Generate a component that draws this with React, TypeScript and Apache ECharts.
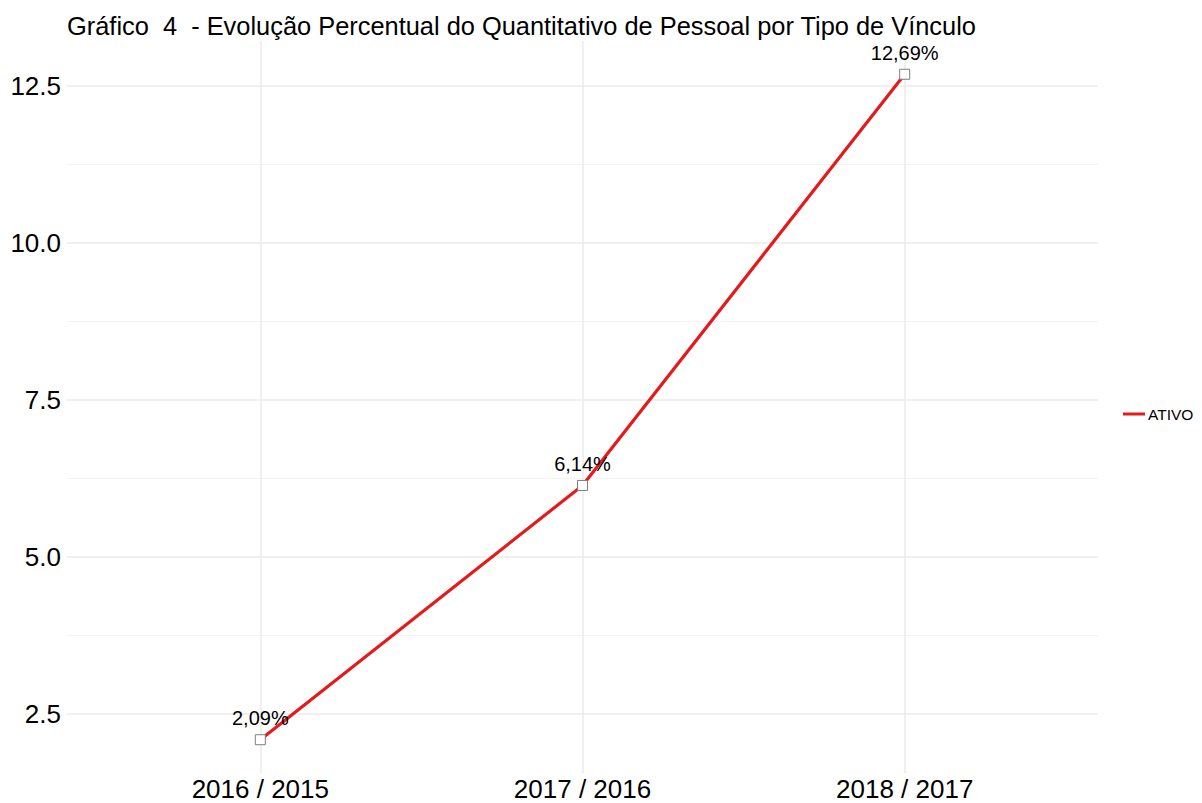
import React, { useEffect, useRef } from "react";
import * as echarts from "echarts";

const titleText = "Gráfico  4  - Evolução Percentual do Quantitativo de Pessoal por Tipo de Vínculo";
const categories = ["2016 / 2015", "2017 / 2016", "2018 / 2017"];
const seriesName = "ATIVO";
const values = [2.09, 6.14, 12.69];
const labels = ["2,09%", "6,14%", "12,69%"];
const yMajorTicks = [2.5, 5.0, 7.5, 10.0, 12.5];
const yMinorTicks = [3.75, 6.25, 8.75, 11.25];

const FONT = "'Liberation Sans', Arial, sans-serif";

export default function App() {
  const ref = useRef<HTMLDivElement>(null);
  useEffect(() => {
    if (!ref.current) return;
    const chart = echarts.init(ref.current, null, { renderer: "svg" });
    const catIdx = categories.map((_, i) => i);
    const xMin = -0.6;
    const xMax = categories.length - 1 + 0.6;
    const vMin = Math.min(...values);
    const vMax = Math.max(...values);
    const pad = (vMax - vMin) * 0.05;
    chart.setOption({
      animation: false,
      backgroundColor: "#ffffff",
      textStyle: { fontFamily: FONT },
      title: {
        text: titleText,
        left: 62,
        top: 8,
        textStyle: { fontFamily: FONT, fontSize: 25.4, fontWeight: "normal", color: "#000" },
      },
      legend: {
        data: [{ name: seriesName, itemStyle: { color: "#E41A1C", borderWidth: 0 } }],
        left: 1118,
        top: 401,
        icon: "rect",
        itemWidth: 22,
        itemHeight: 3,
        itemStyle: { color: "#E41A1C", borderWidth: 0 },
        textStyle: { fontFamily: FONT, fontSize: 15.5, color: "#000", padding: [0, 0, 0, -2] },
      },
      grid: { left: 67, right: 104, top: 41, bottom: 30, containLabel: false },
      xAxis: {
        type: "value",
        min: xMin,
        max: xMax,
        axisLine: { show: false },
        axisTick: { show: false },
        splitLine: { show: false },
        axisLabel: {
          customValues: catIdx,
          formatter: (v: number) => categories[Math.round(v)] ?? "",
          fontSize: 26,
          color: "#000",
          fontFamily: FONT,
          margin: 3,
        },
      },
      yAxis: {
        type: "value",
        min: vMin - pad,
        max: vMax + pad,
        axisLine: { show: false },
        axisTick: { show: false },
        splitLine: { show: false },
        axisLabel: {
          customValues: yMajorTicks,
          formatter: (v: number) => v.toFixed(1),
          fontSize: 26,
          color: "#000",
          fontFamily: FONT,
          margin: 6,
        },
      },
      series: [
        {
          name: "grid",
          type: "line",
          data: [],
          silent: true,
          z: 0,
          markLine: {
            silent: true,
            symbol: "none",
            label: { show: false },
            animation: false,
            data: [
              ...yMinorTicks.map((v) => ({ yAxis: v, lineStyle: { color: "#F3F3F3", width: 1, type: "solid" } })),
              ...yMajorTicks.map((v) => ({ yAxis: v, lineStyle: { color: "#EBEBEB", width: 1.5, type: "solid" } })),
              ...catIdx.map((v) => ({ xAxis: v, lineStyle: { color: "#EBEBEB", width: 1.5, type: "solid" } })),
            ],
          },
        },
        {
          name: seriesName,
          type: "line",
          z: 5,
          data: values.map((v, i) => [i, v]),
          lineStyle: { color: "#E41A1C", width: 3.2 },
          itemStyle: { color: "#ffffff", borderColor: "#7f7f7f", borderWidth: 1 },
          color: "#E41A1C",
          symbol: "rect",
          symbolSize: 10,
          showAllSymbol: true,
          label: {
            show: true,
            position: "top",
            distance: 6,
            formatter: (p: any) => labels[p.dataIndex],
            fontSize: 20,
            color: "#000",
            fontFamily: FONT,
          },
        },
      ],
    });
    return () => chart.dispose();
  }, []);
  return <div ref={ref} style={{ width: 1202, height: 803, position: "absolute", left: 0, top: 0 }} />;
}
